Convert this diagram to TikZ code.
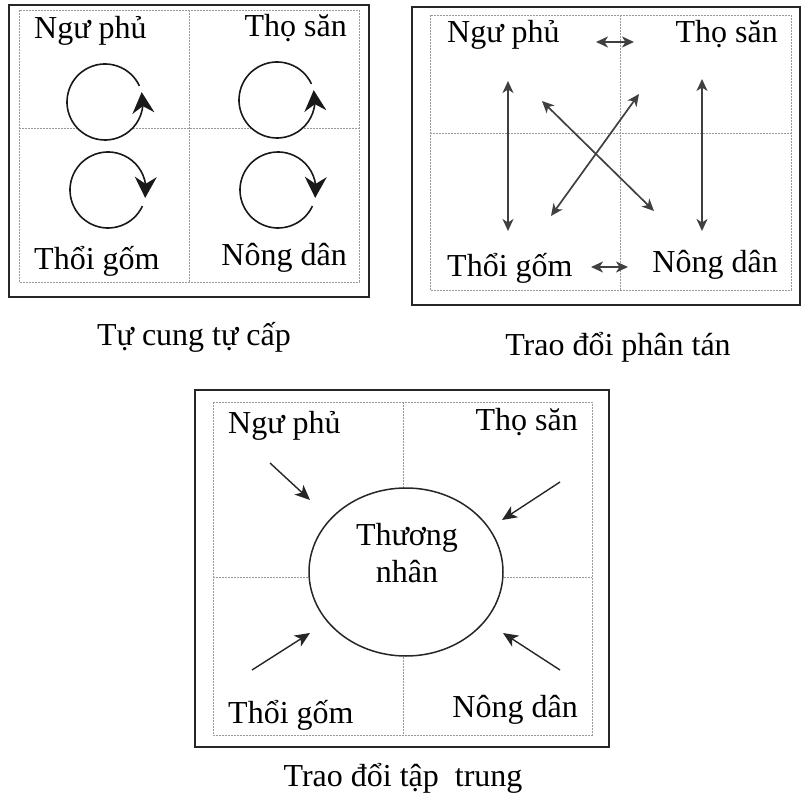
\documentclass[tikz,border=0pt]{standalone}
\usepackage{fontspec}
\setmainfont{Liberation Serif}
\usetikzlibrary{arrows.meta,shapes.geometric,bending}
\begin{document}
\begin{tikzpicture}[x=1pt,y=-1pt,
  frame/.style={draw=black!85, line width=2pt},
  gridln/.style={draw=black!40, line width=0.8pt, dash pattern=on 2pt off 1pt},
  lbl/.style={inner sep=0pt, font=\fontsize{32}{36}\selectfont},
  loopln/.style={draw=black!90, line width=1.6pt, -{Stealth[length=21pt,width=22pt,inset=7pt]}},
  loopfill/.style={fill=white},
  xarrow/.style={draw=black!75, line width=1.7pt, {Stealth[length=12pt,width=11pt,inset=3.5pt]}-{Stealth[length=12pt,width=11pt,inset=3.5pt]}},
  inarrow/.style={draw=black!85, line width=1.4pt, -{Stealth[length=15pt,width=13pt,inset=4pt]}}
]
\useasboundingbox (0,0) rectangle (803,794);

% ---------------- Panel 1: Tu cung tu cap ----------------
\draw[frame] (9,5) rectangle (369,297);
\draw[gridln] (19,10) rectangle (359,282);
\draw[gridln] (189,10) -- (189,282);
\draw[gridln] (19,128) -- (359,128);

\coordinate (c1) at (105,102);
\coordinate (c2) at (277,100);
\coordinate (c3) at (108,190);
\coordinate (c4) at (278,190);
\fill[loopfill] (c1) circle[radius=38];
\fill[loopfill] (c2) circle[radius=38];
\fill[loopfill] (c3) circle[radius=38];
\fill[loopfill] (c4) circle[radius=38];
\draw[loopln] (c1) ++(-25:38) arc[start angle=-25, end angle=-375, radius=38];
\draw[loopln] (c2) ++(-25:38) arc[start angle=-25, end angle=-375, radius=38];
\draw[loopln] (c3) ++(25:38) arc[start angle=25, end angle=372, radius=38];
\draw[loopln] (c4) ++(25:38) arc[start angle=25, end angle=372, radius=38];

\node[lbl, anchor=base west] (p1a) at (34,39) {Ngư phủ};
\node[lbl, anchor=base east] (p1b) at (347,37) {Thọ săn};
\node[lbl, anchor=base west] (p1c) at (34,270) {Thổi gốm};
\node[lbl, anchor=base east] (p1d) at (347,266) {Nông dân};
\node[lbl, anchor=base] (cap1) at (194,345) {Tự cung tự cấp};

% ---------------- Panel 2: Trao doi phan tan ----------------
\draw[frame] (412,7) rectangle (800,305);
\draw[gridln] (430,15) rectangle (791,290);
\draw[gridln] (620,15) -- (620,290);
\draw[gridln] (430,133) -- (791,133);

\node[lbl, anchor=base west] (p2a) at (447,43) {Ngư phủ};
\node[lbl, anchor=base east] (p2b) at (778,43) {Thọ săn};
\node[lbl, anchor=base west] (p2c) at (447,277) {Thổi gốm};
\node[lbl, anchor=base east] (p2d) at (778,273) {Nông dân};
\node[lbl, anchor=base] (cap2) at (618,355) {Trao đổi phân tán};

\coordinate (t1) at (596,42);  \coordinate (t2) at (634,42);
\coordinate (b1) at (591,267); \coordinate (b2) at (628,267);
\coordinate (l1) at (508,81);  \coordinate (l2) at (508,231);
\coordinate (r1) at (702,79);  \coordinate (r2) at (702,231);
\coordinate (d1) at (542,101); \coordinate (d2) at (654,211);
\coordinate (e1) at (639,94);  \coordinate (e2) at (551,216);
\draw[xarrow] (t1) -- (t2);
\draw[xarrow] (b1) -- (b2);
\draw[xarrow] (l1) -- (l2);
\draw[xarrow] (r1) -- (r2);
\draw[xarrow] (d1) -- (d2);
\draw[xarrow] (e1) -- (e2);

% ---------------- Panel 3: Trao doi tap trung ----------------
\draw[frame] (195,390) rectangle (609,747);
\draw[gridln] (213,402) rectangle (592,735);
\draw[gridln] (403,402) -- (403,735);
\draw[gridln] (213,577) -- (592,577);

\node[ellipse, draw=black!85, line width=1.5pt, fill=white, minimum width=194pt, minimum height=168pt, inner sep=0pt] (trader) at (406,572) {};
\node[lbl, anchor=base] (tn1) at (407,545) {Thương};
\node[lbl, anchor=base] (tn2) at (407,582) {nhân};

\node[lbl, anchor=base west] (p3a) at (228,433) {Ngư phủ};
\node[lbl, anchor=base east] (p3b) at (578,430) {Thọ săn};
\node[lbl, anchor=base west] (p3c) at (228,723) {Thổi gốm};
\node[lbl, anchor=base east] (p3d) at (578,717) {Nông dân};
\node[lbl, anchor=base] (cap3) at (403,786) {Trao đổi tập~ trung};

\coordinate (a1) at (270,463); \coordinate (a1e) at (310,500);
\coordinate (a2) at (560,482); \coordinate (a2e) at (502,520);
\coordinate (a3) at (252,670); \coordinate (a3e) at (310,633);
\coordinate (a4) at (560,670); \coordinate (a4e) at (503,633);
\draw[inarrow] (a1) -- (a1e);
\draw[inarrow] (a2) -- (a2e);
\draw[inarrow] (a3) -- (a3e);
\draw[inarrow] (a4) -- (a4e);
\end{tikzpicture}
\end{document}
